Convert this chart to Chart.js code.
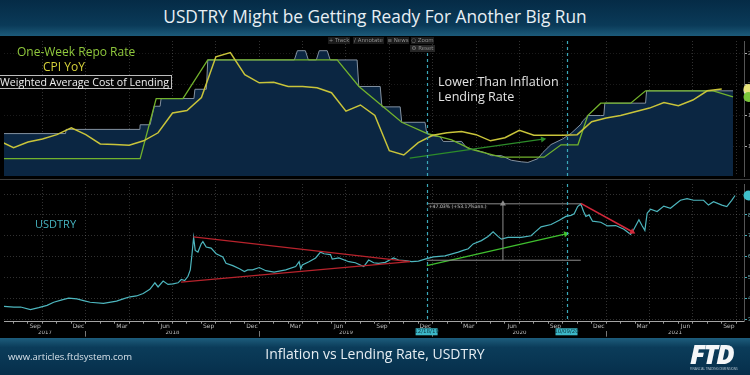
<!DOCTYPE html>
<html>
<head>
<meta charset="utf-8">
<title>USDTRY Might be Getting Ready For Another Big Run</title>
<script src="https://cdn.jsdelivr.net/npm/chart.js@4.4.1/dist/chart.umd.min.js"></script>
<style>
  html, body { margin: 0; padding: 0; }
  body { width: 750px; height: 375px; position: relative; overflow: hidden; background: #000; font-family: "Open Sans", sans-serif; }
  .band { position: absolute; left: 0; width: 750px; }
  #header { top: 0; height: 36px; background: linear-gradient(#052b46, #0a3a58 70%, #1c5a79); }
  #footer { top: 338px; height: 37px; background: linear-gradient(#1d5d7c, #0b3c5a 25%, #062f4b); }
  #sep { top: 179px; height: 1px; background: #3c3c3c; }
  canvas { position: absolute; left: 0; display: block; }
  .t { position: absolute; white-space: nowrap; line-height: 1; }
  .tb { position: absolute; height: 7px; background: #1b1b1b; color: #8d8d8d; font: 5.5px "DejaVu Sans", sans-serif; line-height: 7px; text-align: center; }
</style>
</head>
<body>
<div class="band" id="header"></div>
<div class="t" style="left:0;width:750px;text-align:center;top:8px;color:#e8eff4;font-size:17.3px;">USDTRY Might be Getting Ready For Another Big Run</div>

<canvas id="topChart" width="750" height="143" style="top:37px"></canvas>
<div class="band" id="sep"></div>
<canvas id="bottomChart" width="750" height="157" style="top:180px"></canvas>

<!-- legend and notes drawn over the top panel -->
<div class="t" style="left:17px;top:46px;color:#8fc83c;font-size:12px;">One-Week Repo Rate</div>
<div class="t" style="left:43px;top:61px;color:#d6d23a;font-size:12px;">CPI YoY</div>
<div class="t" style="left:-3px;top:75px;color:#f0f0f0;font-size:10.6px;line-height:12px;border:1px solid #bdbdbd;background:#060606;padding:0 2px;">Weighted Average Cost of Lending</div>
<div class="t" style="left:438px;top:76px;color:#e2e2e2;font-size:12.6px;">Lower Than Inflation</div>
<div class="t" style="left:438px;top:91px;color:#e2e2e2;font-size:12.6px;">Lending Rate</div>
<div class="t" style="left:35px;top:218px;color:#46b3bf;font-size:11px;">USDTRY</div>

<div class="tb" style="left:328px;top:37px;width:22px;">+ Track</div>
<div class="tb" style="left:353px;top:37px;width:31px;">/ Annotate</div>
<div class="tb" style="left:387px;top:37px;width:22px;">≡ News</div>
<div class="tb" style="left:411px;top:37px;width:23px;">○ Zoom</div>
<div class="tb" style="left:410px;top:45px;width:25px;background:#262626;">⚙ Reset</div>

<div class="band" id="footer"></div>
<div class="t" style="left:8px;top:352px;color:#d6e0e8;font-size:9.5px;">www.articles.ftdsystem.com</div>
<div class="t" style="left:0;width:750px;text-align:center;top:347px;color:#e6edf2;font-size:14px;">Inflation vs Lending Rate, USDTRY</div>
<div class="t" style="left:690px;top:340px;color:#f4f6f8;font-size:27px;font-weight:800;font-style:italic;letter-spacing:-2px;">FTD</div>
<div class="t" style="left:690px;top:368px;color:#b9c6d0;font-size:3px;">FINANCIAL TRADING DIMENSIONS</div>

<script>
// x values are months since 1 Jan 2017
const X_MIN = 6.34, X_MAX = 57.54;
const monthNames = ['Jan', 'Feb', 'Mar', 'Apr', 'May', 'Jun', 'Jul', 'Aug', 'Sep', 'Oct', 'Nov', 'Dec'];
const yearNames = ['2017', '2018', '2019', '2020', '2021'];

// Weighted Average Cost of Lending (%)
const lendT = [6.34, 10.60, 10.64, 15.74, 15.76, 16.45, 16.73, 17.14, 17.21, 19.48,
  19.55, 20.34, 20.44, 26.43, 26.64, 27.19, 27.40, 27.95, 28.15, 28.70,
  28.91, 30.77, 30.89, 32.37, 32.49, 33.75, 33.86, 35.47, 35.59, 35.93,
  36.50, 36.73, 38.00, 38.34, 39.60, 40.06, 40.75, 41.44, 42.13, 42.59,
  43.27, 43.62, 44.19, 44.99, 45.57, 46.26, 46.37, 46.76, 47.63, 47.84,
  47.91, 50.73, 50.80, 56.78];
const lendV = [12.07, 12.07, 12.75, 12.75, 13.5, 13.5, 16.5, 16.5, 17.75, 17.75,
  19.25, 19.25, 24, 24, 25.5, 25.5, 24, 24, 25.5, 25.5,
  24, 24, 19.7, 19.7, 16.4, 16.4, 13.9, 13.9, 12.1, 11.7,
  11.6, 10.8, 10.8, 9.8, 9.0, 8.5, 8.5, 7.75, 7.5, 7.4,
  8.0, 9.0, 10.3, 11.2, 12.1, 13.6, 14.1, 15.0, 15.0, 15.0,
  17.0, 17.0, 19.0, 19.0];

// One-Week Repo Rate (%)
const repoT = [6.34, 15.76, 16.87, 18.72, 20.44, 29.39, 30.90, 33.86, 35.59, 37.31,
  38.68, 40.75, 43.71, 44.88, 46.05, 46.73, 47.63, 49.70, 50.73, 55.41, 56.78];
const repoV = [8, 8, 17.75, 17.75, 24, 24, 19.7, 13.9, 12.1, 11.06,
  9.53, 8.25, 8.25, 10.25, 10.25, 15, 17, 17, 19, 19, 18];

// CPI YoY (%), monthly from Jun 2017 to Aug 2021, plotted at month end
const CPI_FIRST_MONTH_END = 6;
const cpiV = [10.9, 9.8, 10.7, 11.2, 11.9, 13.0, 11.9,
  10.4, 10.3, 10.2, 10.9, 12.2, 15.4, 15.8, 17.9, 24.5, 25.2, 21.6, 20.3,
  20.4, 19.7, 19.7, 19.5, 18.7, 15.7, 16.7, 15.0, 9.3, 8.6, 10.6, 11.8,
  12.2, 12.4, 11.9, 10.9, 11.4, 12.6, 11.8, 11.8, 11.8, 11.9, 14.0, 14.6,
  15.0, 15.6, 16.2, 17.1, 16.6, 17.5, 19.0, 19.3];

// USDTRY
const usdT = [6.34, 7.02, 7.49, 8.17, 8.74, 9.32, 9.78, 10.35, 10.81, 11.38,
  11.84, 12.30, 13.22, 14.13, 14.59, 15.06, 15.51, 15.97, 16.43, 16.78,
  17.00, 17.35, 17.69, 18.04, 18.38, 18.61, 18.84, 19.07, 19.23, 19.34,
  19.46, 19.57, 19.76, 19.98, 20.10, 20.33, 20.67, 21.02, 21.48, 21.70,
  22.17, 22.63, 22.97, 23.20, 23.54, 24.00, 24.46, 25.03, 25.83, 26.52,
  26.76, 26.87, 26.98, 27.44, 27.90, 28.24, 28.48, 28.93, 29.05, 29.51,
  30.20, 30.65, 31.23, 31.57, 31.92, 32.26, 32.72, 33.29, 33.64, 34.09,
  34.55, 35.01, 35.59, 36.05, 36.85, 37.77, 38.11, 38.46, 38.80, 39.37,
  39.83, 40.18, 40.52, 40.75, 41.21, 42.12, 42.81, 43.04, 43.50, 44.19,
  44.76, 45.22, 45.57, 45.79, 46.03, 46.25, 46.44, 46.60, 46.82, 47.06,
  47.63, 48.09, 48.66, 49.23, 49.69, 49.92, 50.27, 50.50, 50.68, 50.84,
  51.07, 51.53, 51.99, 52.45, 53.14, 53.60, 54.05, 54.74, 55.08, 55.43,
  56.01, 56.35, 56.69, 56.92];
const usdV = [3.62, 3.59, 3.59, 3.47, 3.56, 3.67, 3.82, 3.93, 4.02, 3.98,
  3.90, 3.82, 3.77, 3.87, 3.98, 4.08, 4.12, 4.24, 4.44, 4.75,
  4.55, 4.83, 4.67, 4.70, 4.75, 4.91, 4.86, 5.06, 5.37, 6.07,
  6.92, 6.30, 6.22, 6.61, 6.72, 6.46, 6.41, 6.14, 5.99, 5.68,
  5.57, 5.42, 5.29, 5.37, 5.37, 5.48, 5.33, 5.26, 5.37, 5.53,
  5.76, 5.42, 5.60, 5.76, 5.94, 6.22, 6.14, 6.10, 5.88, 5.94,
  5.76, 5.71, 5.53, 5.84, 5.71, 5.68, 5.73, 5.94, 5.84, 5.81,
  5.76, 5.79, 5.91, 5.99, 6.04, 6.22, 6.30, 6.38, 6.61, 6.77,
  6.97, 7.19, 6.97, 6.84, 6.92, 6.92, 7.00, 7.15, 7.43, 7.54,
  7.74, 7.93, 7.98, 8.05, 8.40, 8.52, 8.16, 7.93, 8.00, 7.70,
  7.65, 7.47, 7.49, 7.31, 7.07, 7.31, 7.77, 7.47, 7.26, 8.08,
  8.27, 8.16, 8.42, 8.32, 8.70, 8.78, 8.70, 8.70, 8.47, 8.63,
  8.47, 8.40, 8.70, 8.93];

// drawn annotations (trend lines, arrows, measure box)
const topArrowT = [34.41, 43.62], topArrowV = [8.1, 11.17];
const wedgeUpperT = [19.44, 34.42], wedgeUpperV = [6.95, 5.76];
const wedgeLowerT = [18.59, 34.42], wedgeLowerV = [4.78, 5.76];
const upArrowT = [35.59, 45.22], upArrowV = [5.57, 7.09];
const downArrowT = [46.25, 49.81], downArrowV = [8.55, 7.19];
const measureT = [35.59, 46.25], measureMidT = 40.86, measureHigh = 8.53, measureLow = 5.83;
const measureText = '+47.03% (+53.17%ann.)';

// vertical date markers
const markerT = [35.58, 45.26];
const markerTags = ['12/18/19', '10/09/20'];

function pts(xs, ys) {
  return xs.map((x, i) => ({ x: x, y: ys[i] }));
}

function lockBox(scale, size) {
  if (scale.isHorizontal()) scale.height = size; else scale.width = size;
  scale.paddingTop = scale.paddingBottom = scale.paddingLeft = scale.paddingRight = 0;
}

function arrowAngle(ctx) {
  const d = ctx.dataset.data, sc = ctx.chart.scales;
  const dx = sc.x.getPixelForValue(d[1].x) - sc.x.getPixelForValue(d[0].x);
  const dy = sc.y.getPixelForValue(d[1].y) - sc.y.getPixelForValue(d[0].y);
  return Math.atan2(dy, dx) * 180 / Math.PI + 90;
}

function segment(xs, ys, color, width, arrow) {
  return {
    data: pts(xs, ys),
    borderColor: color,
    backgroundColor: color,
    borderWidth: width,
    pointStyle: 'triangle',
    pointRadius: ctx => (arrow && ctx.dataIndex === 1) ? 3.5 : 0,
    pointBorderWidth: 0,
    pointRotation: arrowAngle,
    order: 0
  };
}

function monthTicks(scale) {
  const ticks = [];
  for (let m = Math.ceil(X_MIN); m <= Math.floor(X_MAX); m++) ticks.push({ value: m });
  scale.ticks = ticks;
}

function yearTicks(scale) {
  const ticks = [];
  yearNames.forEach((name, k) => {
    const start = 12 * k, end = start + 12;
    if (start > X_MIN) ticks.push({ value: start });
    ticks.push({ value: (Math.max(X_MIN, start) + Math.min(X_MAX, end)) / 2 });
  });
  scale.ticks = ticks;
}

const dotted = 'rgba(150,150,150,0.33)';

function monthAxis(showLabels) {
  return {
    type: 'linear',
    min: X_MIN,
    max: X_MAX,
    weight: 0,
    afterBuildTicks: monthTicks,
    afterFit: s => lockBox(s, showLabels ? 9 : 0),
    ticks: {
      display: showLabels,
      autoSkip: false,
      maxRotation: 0,
      padding: -1,
      labelOffset: -7.3,
      color: '#bdbdbd',
      font: { size: 6, family: 'DejaVu Sans' },
      callback: v => v % 3 === 0 ? monthNames[(v + 11) % 12] : ''
    },
    grid: {
      color: ctx => (ctx.tick && ctx.tick.value % 3 === 0) ? dotted : 'transparent',
      drawTicks: showLabels,
      tickLength: 2,
      tickColor: '#9a9a9a'
    },
    border: { display: showLabels, color: '#a5a5a5', dash: [1, 2] }
  };
}

const markerPlugin = {
  id: 'markers',
  afterDatasetsDraw(chart, args, opts) {
    const { ctx, chartArea: a, scales: { x, y } } = chart;
    ctx.save();
    ctx.strokeStyle = '#3aa8ba';
    ctx.lineWidth = 1.2;
    ctx.setLineDash([3, 3]);
    markerT.forEach(t => {
      const px = Math.round(x.getPixelForValue(t)) + 0.5;
      ctx.beginPath();
      ctx.moveTo(px, a.top);
      ctx.lineTo(px, a.bottom);
      ctx.stroke();
    });
    ctx.setLineDash([]);

    // last value badges, cut by the window edge
    (opts.badges || []).forEach(b => {
      const ds = chart.data.datasets[b.index].data;
      const py = y.getPixelForValue(ds[ds.length - 1].y);
      ctx.beginPath();
      ctx.arc(a.right + 4.5, py, 5, 0, Math.PI * 2);
      ctx.fillStyle = b.color;
      ctx.fill();
    });

    if (opts.tags) {
      ctx.font = '5.5px "DejaVu Sans"';
      ctx.textAlign = 'center';
      ctx.textBaseline = 'middle';
      markerT.forEach((t, i) => {
        const px = x.getPixelForValue(t);
        ctx.fillStyle = '#3cb8c8';
        ctx.fillRect(px - 11, a.bottom + 6.6, 22, 7);
        ctx.fillStyle = '#0c3641';
        ctx.fillText(markerTags[i], px, a.bottom + 10.2);
      });
      const lx = x.getPixelForValue(measureT[0]) + 1;
      const ly = y.getPixelForValue(measureHigh) + 3.2;
      ctx.font = '4.6px "DejaVu Sans"';
      ctx.textAlign = 'left';
      ctx.fillStyle = '#0b0b0b';
      ctx.fillRect(lx, ly - 2.6, ctx.measureText(measureText).width + 2, 5.2);
      ctx.fillStyle = '#c9c9c9';
      ctx.fillText(measureText, lx + 1, ly);
    }
    ctx.restore();
  }
};

// top panel: rates
new Chart(document.getElementById('topChart'), {
  type: 'line',
  data: {
    datasets: [
      { label: 'CPI YoY', data: pts(cpiV.map((v, i) => CPI_FIRST_MONTH_END + i), cpiV),
        borderColor: '#c9c43a', borderWidth: 1.5, order: 1 },
      { label: 'One-Week Repo Rate', data: pts(repoT, repoV),
        borderColor: '#72b22c', borderWidth: 1.3, order: 2 },
      { label: 'Weighted Average Cost of Lending', data: pts(lendT, lendV),
        borderColor: '#8391a0', borderWidth: 1, backgroundColor: 'rgb(11,38,66)', fill: 'start', order: 3 },
      segment(topArrowT, topArrowV, '#2d8c2a', 1.2, true)
    ]
  },
  options: {
    responsive: false,
    animation: false,
    devicePixelRatio: 1,
    events: [],
    layout: { padding: 0 },
    elements: { point: { radius: 0 }, line: { tension: 0 } },
    plugins: {
      legend: { display: false },
      tooltip: { enabled: false },
      markers: { badges: [{ index: 2, color: '#cfd6dc' }, { index: 0, color: '#e6e27a' }, { index: 1, color: '#79c43a' }] }
    },
    scales: {
      x: monthAxis(false),
      y: {
        position: 'right',
        min: 5.2,
        max: 27.07,
        afterFit: s => lockBox(s, 6),
        ticks: { stepSize: 5, includeBounds: false, color: '#9a9a9a', font: { size: 6 }, padding: 1 },
        grid: { color: 'rgba(150,150,150,0.18)', tickLength: 3, tickColor: '#b0b0b0' },
        border: { color: '#555', dash: [1, 2] }
      }
    }
  },
  plugins: [markerPlugin]
});

// bottom panel: USDTRY
new Chart(document.getElementById('bottomChart'), {
  type: 'line',
  data: {
    datasets: [
      { label: 'USDTRY', data: pts(usdT, usdV), borderColor: '#4db6be', borderWidth: 1.2, order: 2 },
      segment(wedgeUpperT, wedgeUpperV, '#b8232c', 1.2, false),
      segment(wedgeLowerT, wedgeLowerV, '#b8232c', 1.2, false),
      segment(measureT, [measureHigh, measureHigh], '#8c8c8c', 1, false),
      segment(measureT, [measureLow, measureLow], '#8c8c8c', 1, false),
      segment([measureMidT, measureMidT], [measureLow, measureHigh], '#8c8c8c', 1, true),
      segment(upArrowT, upArrowV, '#3fbf2e', 1.4, true),
      segment(downArrowT, downArrowV, '#d2283a', 1.6, true)
    ]
  },
  options: {
    responsive: false,
    animation: false,
    devicePixelRatio: 1,
    events: [],
    layout: { padding: 0 },
    elements: { point: { radius: 0 }, line: { tension: 0 } },
    plugins: {
      legend: { display: false },
      tooltip: { enabled: false },
      markers: { tags: true, badges: [{ index: 0, color: '#3fc0cc' }] }
    },
    scales: {
      x: monthAxis(true),
      years: {
        type: 'linear',
        position: 'bottom',
        min: X_MIN,
        max: X_MAX,
        weight: 1,
        afterBuildTicks: yearTicks,
        afterFit: s => lockBox(s, 6.3),
        ticks: {
          autoSkip: false,
          maxRotation: 0,
          padding: -7.6,
          color: '#bdbdbd',
          font: { size: 5.5, family: 'DejaVu Sans' },
          callback: v => v % 12 === 0 ? '' : yearNames[Math.floor(v / 12)]
        },
        grid: {
          drawOnChartArea: false,
          tickLength: 6,
          tickColor: ctx => (ctx.tick && ctx.tick.value % 12 === 0) ? '#777' : 'transparent'
        },
        border: { display: false }
      },
      y: {
        position: 'right',
        min: 2.888,
        max: 9.479,
        afterFit: s => lockBox(s, 6),
        ticks: { stepSize: 1, includeBounds: false, color: '#7fb9bf', font: { size: 6 }, padding: 1 },
        grid: { color: dotted, tickLength: 3, tickColor: '#3fb0bc' },
        border: { color: '#555', dash: [1, 2] }
      }
    }
  },
  plugins: [markerPlugin]
});
</script>
</body>
</html>
